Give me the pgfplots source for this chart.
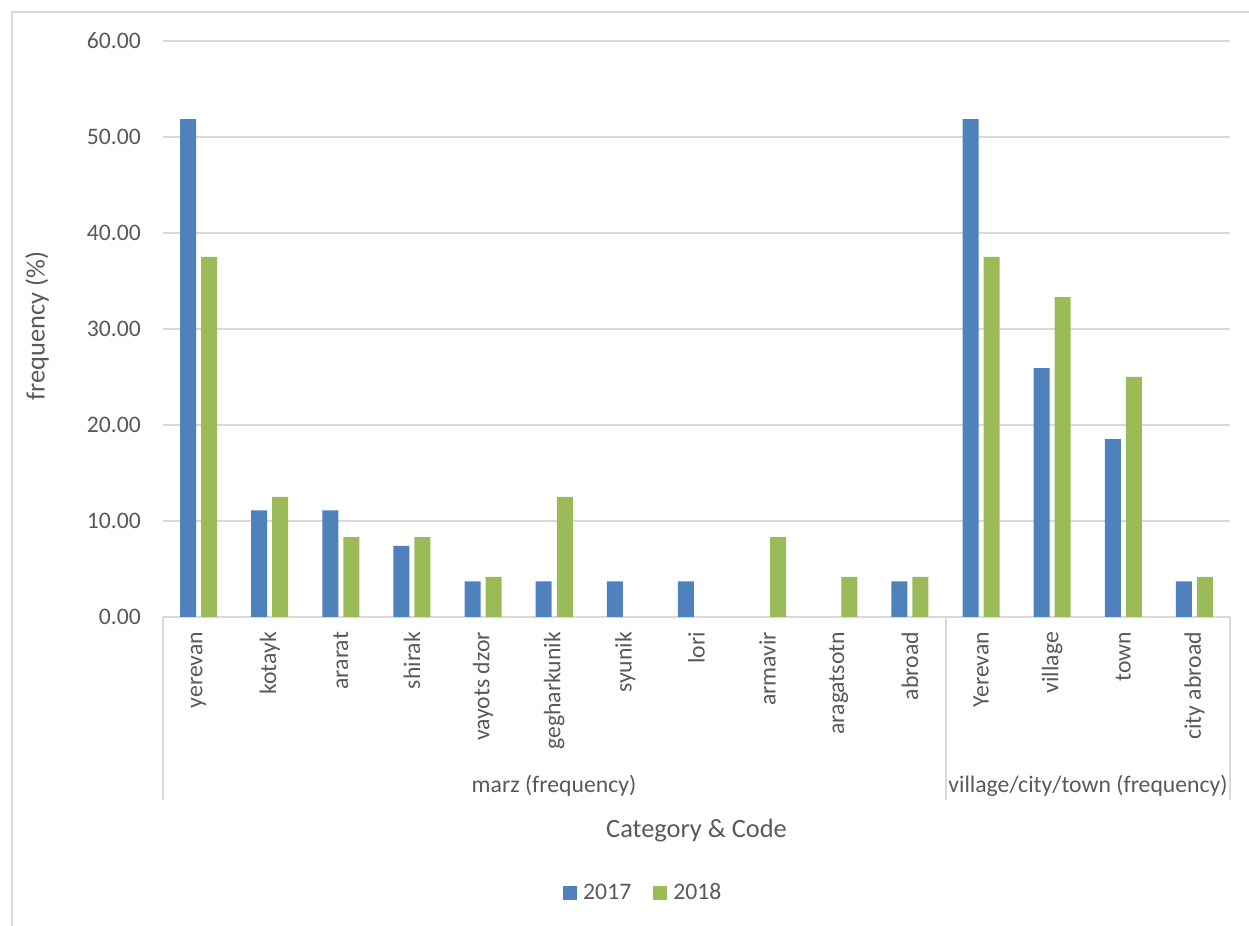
\documentclass[border=0pt]{standalone}
\usepackage{fontspec}
\setmainfont{Carlito}
\usepackage{pgfplots}
\pgfplotsset{compat=1.18}

\definecolor{barblue}{HTML}{4F81BD}
\definecolor{bargreen}{HTML}{9BBB59}
\definecolor{gridgray}{HTML}{D9D9D9}
\definecolor{labelgray}{HTML}{595959}

\newcommand{\labelfont}{\fontsize{11.85}{14}\selectfont}
\newcommand{\titlefont}{\fontsize{13.2}{15.5}\selectfont}

\begin{document}
\begin{tikzpicture}[text=labelgray]
\useasboundingbox (0,0) rectangle (624.5pt,463pt);
% chart frame
\draw[gridgray, line width=0.8pt] (6pt,-2pt) -- (6pt,457pt) -- (626pt,457pt);

\begin{axis}[
  at={(81.5pt,154.5pt)}, anchor=south west,
  scale only axis, width=533.5pt, height=288pt,
  xmin=-0.5, xmax=14.5, ymin=0, ymax=60,
  ytick={0,10,...,60},
  xtick={0,...,14},
  xticklabels={yerevan,kotayk,ararat,shirak,vayots dzor,gegharkunik,syunik,lori,armavir,aragatsotn,abroad,Yerevan,village,town,city abroad},
  axis x line=bottom, axis y line=left,
  axis line style={-},
  y axis line style={draw=none},
  x axis line style={gridgray, line width=0.8pt},
  major tick length=0pt,
  tick style={draw=none},
  ymajorgrids,
  major grid style={gridgray, line width=0.7pt},
  /pgf/number format/assume math mode=true,
  yticklabel style={font=\labelfont, text=labelgray,
    /pgf/number format/.cd, fixed, fixed zerofill, precision=2},
  yticklabel shift=7.5pt,
  xticklabel style={font=\labelfont, text=labelgray, rotate=90, anchor=east},
  xticklabel shift=4pt,
  legend style={at={(0.452,-0.479)}, anchor=center, draw=none,
    font=\labelfont, text=labelgray, legend columns=2,
    /tikz/every even column/.append style={column sep=8pt},
    nodes={inner xsep=3pt}},
  legend image code/.code={\fill[#1] (0pt,-3.5pt) rectangle (7pt,3.5pt);},
]
% 2017 (categories without a value are left out)
\addplot[ybar, bar width=0.225, bar shift=-0.148, fill=barblue, draw=none]
  coordinates {(0,51.85) (1,11.11) (2,11.11) (3,7.41) (4,3.70) (5,3.70) (6,3.70)
               (7,3.70) (10,3.70) (11,51.85) (12,25.93) (13,18.52) (14,3.70)};
\addlegendentry{2017}
% 2018
\addplot[ybar, bar width=0.225, bar shift=0.148, fill=bargreen, draw=none]
  coordinates {(0,37.50) (1,12.50) (2,8.33) (3,8.33) (4,4.17) (5,12.50)
               (8,8.33) (9,4.17) (10,4.17) (11,37.50) (12,33.33) (13,25.00) (14,4.17)};
\addlegendentry{2018}
\end{axis}

% group separators of the category axis
\draw[gridgray, line width=0.8pt] (81.5pt,154.5pt) -- (81.5pt,63pt);
\draw[gridgray, line width=0.8pt] (473pt,154.5pt) -- (473pt,63pt);
\draw[gridgray, line width=0.8pt] (615pt,154.5pt) -- (615pt,63pt);

% group labels and titles
\node[font=\labelfont, anchor=base] at (277pt,66.5pt) {marz (frequency)};
\node[font=\labelfont, anchor=base] at (544pt,66.5pt) {village/city/town (frequency)};
\node[font=\titlefont, anchor=base] at (348.25pt,44pt) {Category \& Code};
\node[font=\titlefont, rotate=90] at (18.5pt,300pt) {frequency (\%)};
\end{tikzpicture}
\end{document}
